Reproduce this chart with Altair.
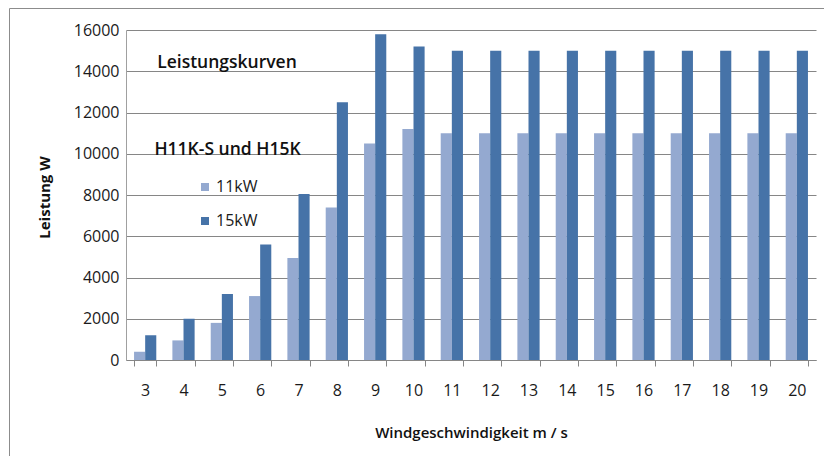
import altair as alt
import pandas as pd

speeds = [3, 4, 5, 6, 7, 8, 9, 10, 11, 12, 13, 14, 15, 16, 17, 18, 19, 20]
kw11 = [400, 950, 1800, 3100, 4950, 7400, 10500, 11200, 11000, 11000,
        11000, 11000, 11000, 11000, 11000, 11000, 11000, 11000]
kw15 = [1200, 2000, 3200, 5600, 8050, 12500, 15800, 15200, 15000, 15000,
        15000, 15000, 15000, 15000, 15000, 15000, 15000, 15000]
series_names = ["11kW", "15kW"]
series_colors = ["#94A9D0", "#4673A8"]
y_ticks = [0, 2000, 4000, 6000, 8000, 10000, 12000, 14000, 16000]
annotations = ["Leistungskurven", "H11K-S und H15K"]
x_title = "Windgeschwindigkeit m / s"
y_title = "Leistung W"

FONT = "Open Sans"

rows = []
for s, a, b in zip(speeds, kw11, kw15):
    rows.append({"speed": str(s), "series": series_names[0], "value": a})
    rows.append({"speed": str(s), "series": series_names[1], "value": b})
df = pd.DataFrame(rows)

W, H = 690, 330

bars = alt.Chart(df).mark_bar().encode(
    x=alt.X("speed:N", sort=[str(s) for s in speeds],
            scale=alt.Scale(paddingInner=0.42, paddingOuter=0.21),
            axis=alt.Axis(title=x_title, labelAngle=0, tickBand="extent",
                          tickSize=6, tickColor="#868686", domainColor="#868686",
                          labelFontSize=16, labelPadding=16, labelColor="#1a1a1a",
                          labelFont=FONT, titleFont=FONT, titleFontSize=15,
                          titleFontWeight=600, titleColor="#111111",
                          titleY=72, titleBaseline="middle", grid=False)),
    xOffset=alt.XOffset("series:N", sort=series_names),
    y=alt.Y("value:Q", scale=alt.Scale(domain=[0, 16000], nice=False),
            axis=alt.Axis(title=y_title, values=y_ticks, format="d", grid=True,
                          gridColor="#868686", domainColor="#a0a0a0",
                          ticks=False, labelPadding=7, labelFontSize=16,
                          labelFont=FONT, labelColor="#1a1a1a",
                          titleFont=FONT, titleFontSize=15, titleFontWeight="bold",
                          titleColor="#111111", titleX=-82, titleY=H / 2 + 2,
                          titleBaseline="middle", titleAngle=-90)),
    color=alt.Color("series:N", sort=series_names,
                    scale=alt.Scale(domain=series_names, range=series_colors),
                    legend=alt.Legend(title=None, orient="none", legendX=71,
                                      legendY=149, symbolType="square",
                                      symbolSize=64, symbolStrokeWidth=0,
                                      labelFontSize=16, labelFont=FONT,
                                      labelColor="#1a1a1a", rowPadding=18,
                                      labelOffset=3)),
)

ann_df = pd.DataFrame({"text": annotations})
ann1 = alt.Chart(ann_df.iloc[[0]]).mark_text(
    font=FONT, fontSize=17.5, fontWeight=600, color="#111111", baseline="middle"
).encode(text="text:N", x=alt.value(101), y=alt.value(33))
ann2 = alt.Chart(ann_df.iloc[[1]]).mark_text(
    font=FONT, fontSize=17.5, fontWeight=600, color="#111111", baseline="middle"
).encode(text="text:N", x=alt.value(101.5), y=alt.value(120))

frame_top = alt.Chart(pd.DataFrame({"a": [0]})).mark_rule(
    color="#8c8c8c", strokeWidth=1
).encode(x=alt.value(-116.5), x2=alt.value(720), y=alt.value(-21.5))
frame_left = alt.Chart(pd.DataFrame({"a": [0]})).mark_rule(
    color="#8c8c8c", strokeWidth=1
).encode(x=alt.value(-116.5), y=alt.value(-21.5), y2=alt.value(460))

chart = alt.layer(bars, ann1, ann2, frame_top, frame_left).properties(
    width=W, height=H,
    autosize=alt.AutoSizeParams(type="none"),
    padding={"left": 118, "top": 22, "right": 8, "bottom": 96},
    background="white",
).configure_view(stroke=None)

chart.save("out.html", embed_options={"renderer": "svg", "actions": False})
